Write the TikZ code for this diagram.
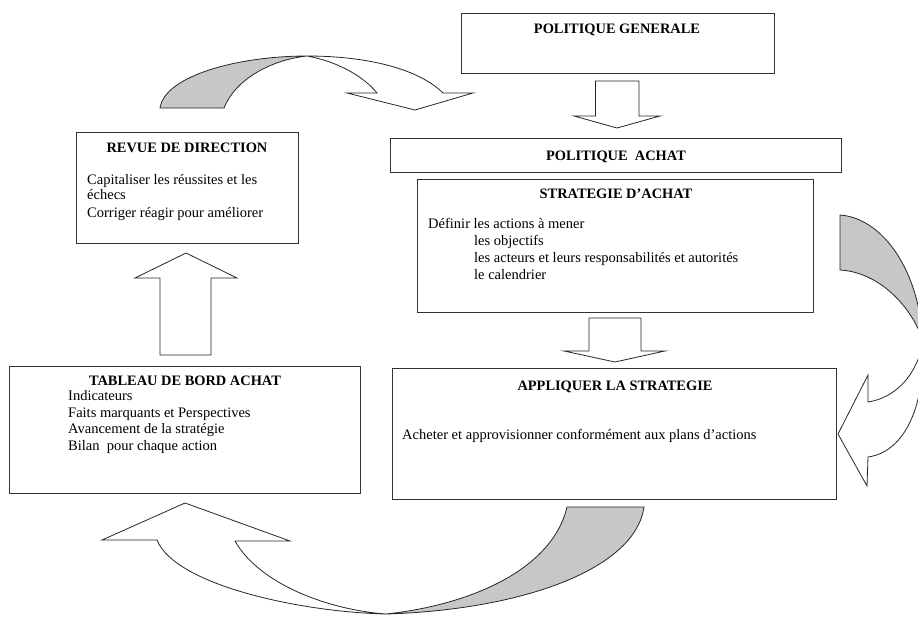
\documentclass[tikz,border=0pt]{standalone}
\usepackage{fontspec}
\setmainfont{Liberation Serif}
\begin{document}
\begin{tikzpicture}[x=1pt,y=-1pt,
  boxshape/.style={draw=black!80, line width=0.9pt, inner sep=0pt, rectangle},
  ttl/.style={font=\fontsize{14.4}{17}\selectfont\bfseries, anchor=base, inner sep=0pt},
  body/.style={font=\fontsize{14.5}{16.8}\selectfont, anchor=base west, inner sep=0pt},
  blockarrow/.style={draw=black!85, line width=0.8pt, fill=white, line join=miter},
  shade/.style={draw=black!85, line width=0.8pt, fill=black!22}]
\useasboundingbox (0,0) rectangle (918,616);
\clip (0,0) rectangle (918,616);

% boxes
\node[boxshape, minimum width=313pt, minimum height=60pt] (gen) at (617.5,43) {};
\node[boxshape, minimum width=451pt, minimum height=34pt] (ach) at (615.5,155) {};
\node[boxshape, minimum width=396pt, minimum height=133pt] (str) at (615,245.5) {};
\node[boxshape, minimum width=444pt, minimum height=131pt] (app) at (614,433.5) {};
\node[boxshape, minimum width=222pt, minimum height=111pt] (rev) at (187,187.5) {};
\node[boxshape, minimum width=351pt, minimum height=127pt] (tab) at (184.5,429.5) {};

% titles
\node[ttl] (genT) at (617,33) {POLITIQUE GENERALE};
\node[ttl] (achT) at (616,160) {POLITIQUE\ \ ACHAT};
\node[ttl] (strT) at (616,198) {STRATEGIE D’ACHAT};
\node[ttl] (appT) at (615,390) {APPLIQUER LA STRATEGIE};
\node[ttl] (revT) at (187,152) {REVUE DE DIRECTION};
\node[ttl] (tabT) at (185,385) {TABLEAU DE BORD ACHAT};

% bodies
\node[body] (str1) at (428,228) {Définir les actions à mener};
\node[body] (str2) at (474,245) {les objectifs};
\node[body] (str3) at (474,262) {les acteurs et leurs responsabilités et autorités};
\node[body] (str4) at (474,279) {le calendrier};

\node[body] (rev1) at (87,184) {Capitaliser les réussites et les};
\node[body] (rev2) at (87,199) {échecs};
\node[body] (rev3) at (87,217) {Corriger réagir pour améliorer};

\node[body] (tab1) at (68,400) {Indicateurs};
\node[body] (tab2) at (68,417) {Faits marquants et Perspectives};
\node[body] (tab3) at (68,433.5) {Avancement de la stratégie};
\node[body] (tab4) at (68,450) {Bilan\ \ pour chaque action};

\node[body] (app1) at (402,439) {Acheter et approvisionner conformément aux plans d’actions};

% straight block arrows
\draw[blockarrow] (595.5,81) -- (639,81) -- (639,116) -- (660,116) -- (617,128) -- (574,116) -- (595.5,116) -- cycle;
\draw[blockarrow] (589,318) -- (641,318) -- (641,351) -- (665,351) -- (615,362) -- (564,351) -- (589,351) -- cycle;
\draw[blockarrow] (160,355) -- (211,355) -- (211,278) -- (237,278) -- (186,253) -- (135,278) -- (160,278) -- cycle;

% top curved arrow
\draw[shade] (160,108) .. controls (165,75) and (240,56) .. (307,56)
  .. controls (270,60) and (235,80) .. (224,108) -- cycle;
\draw[blockarrow] (307,56) .. controls (370,56) and (420,70) .. (443,93)
  -- (473,93) -- (415,110) -- (347,93) -- (377,93)
  .. controls (365,78) and (340,62) .. (307,56) -- cycle;

% right curved arrow
\draw[shade] (840,215) .. controls (880,218) and (918,265) .. (923,340)
  .. controls (908,300) and (875,272) .. (840,270) -- cycle;
\draw[blockarrow] (923,340) .. controls (926,405) and (905,452) .. (868,457)
  -- (867,486) -- (838,434) -- (868,375) -- (868,402)
  .. controls (895,398) and (918,375) .. (923,340) -- cycle;

% bottom curved arrow
\draw[shade] (386,614) .. controls (520,610) and (635,570) .. (644,507)
  -- (567,507) .. controls (552,570) and (470,605) .. (386,614) -- cycle;
\draw[blockarrow] (386,614) .. controls (300,612) and (175,585) .. (157,540)
  -- (102,540) -- (185,503) -- (290,541) -- (235,541)
  .. controls (260,585) and (330,610) .. (386,614) -- cycle;
\end{tikzpicture}
\end{document}
